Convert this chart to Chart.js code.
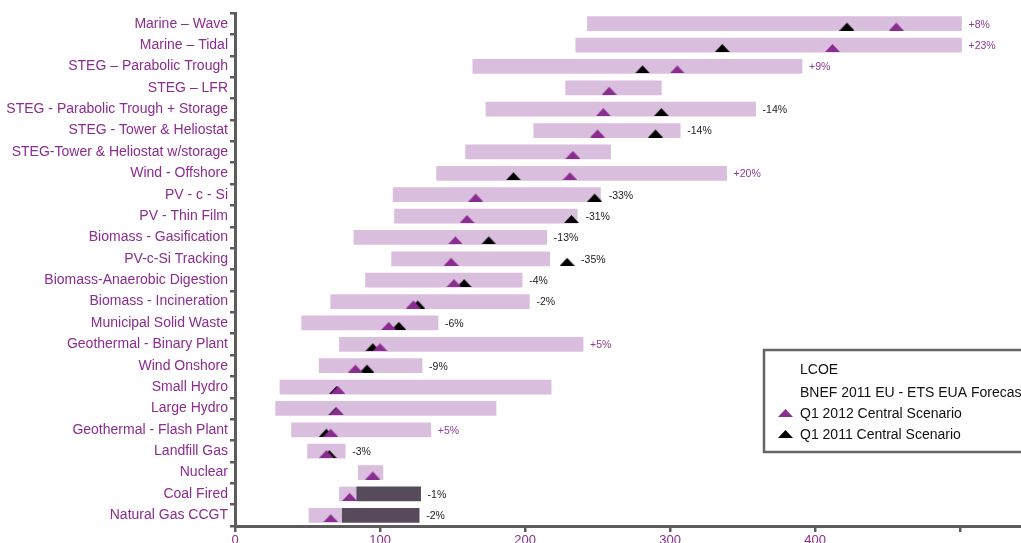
<!DOCTYPE html>
<html>
<head>
<meta charset="utf-8">
<script src="https://cdn.jsdelivr.net/npm/chart.js@4.4.1/dist/chart.umd.min.js"></script>
<style>
  html, body { margin: 0; padding: 0; background: #fff; overflow: hidden; }
  #wrap { width: 1021px; height: 543px; position: relative; }
</style>
</head>
<body>
<div id="wrap"><canvas id="lcoe-chart"></canvas></div>
<script>
(function () {
  "use strict";

  // technologies, top to bottom
  const technologies = [
    "Marine – Wave", "Marine – Tidal", "STEG – Parabolic Trough", "STEG – LFR",
    "STEG - Parabolic Trough + Storage", "STEG - Tower & Heliostat",
    "STEG-Tower & Heliostat w/storage", "Wind - Offshore", "PV - c - Si",
    "PV - Thin Film", "Biomass - Gasification", "PV-c-Si Tracking",
    "Biomass-Anaerobic Digestion", "Biomass - Incineration", "Municipal Solid Waste",
    "Geothermal - Binary Plant", "Wind Onshore", "Small Hydro", "Large Hydro",
    "Geothermal - Flash Plant", "Landfill Gas", "Nuclear", "Coal Fired", "Natural Gas CCGT",
  ];

  // LCOE range (low / high)
  const lcoeLow  = [243, 235, 164, 228, 173, 206, 159, 139, 109, 110, 82, 108, 90, 66, 46, 72, 58, 31, 28, 39, 50, 85, 72, 51];
  const lcoeHigh = [501, 501, 391, 294, 359, 307, 259, 339, 252, 236, 215, 217, 198, 203, 140, 240, 129, 218, 180, 135, 76, 102, 84, 74];

  // carbon price add-on (only fossil plants)
  const carbonLow  = [null, null, null, null, null, null, null, null, null, null, null, null, null, null, null, null, null, null, null, null, null, null, 84, 74];
  const carbonHigh = [null, null, null, null, null, null, null, null, null, null, null, null, null, null, null, null, null, null, null, null, null, null, 128, 127];

  // central scenarios
  const q1_2012 = [456, 412, 305, 258, 254, 250, 233, 231, 166, 160, 152, 149, 151, 123, 106, 100, 83, 71, 70, 66, 63, 95, 79, 66];
  const q1_2011 = [422, 336, 281, null, 294, 290, null, 192, 248, 232, 175, 229, 158, 126, 113, 95, 91, 70, 69.5, 63, 65, null, null, null];

  // change Q1 2011 -> Q1 2012
  const changeLabels = ["+8%", "+23%", "+9%", "", "-14%", "-14%", "", "+20%", "-33%", "-31%", "-13%", "-35%",
    "-4%", "-2%", "-6%", "+5%", "-9%", "", "", "+5%", "-3%", "", "-1%", "-2%"];

  const xMin = 0;
  const xMax = 542;
  const xStep = 100;
  const xLabelled = [0, 100, 200, 300, 400];

  const PURPLE = "#8b2c90";
  const LIGHT = "#d9bedd";
  const DARK = "#574a5a";
  const AXIS = "#5c5c5c";
  const FONT = "Arial, 'Liberation Sans', Helvetica, sans-serif";

  // flat triangle marker, base sitting near the bottom of the bar
  function triangleIcon(color) {
    const c = document.createElement("canvas");
    c.width = 15;
    c.height = 14;
    const g = c.getContext("2d");
    g.fillStyle = color;
    g.beginPath();
    g.moveTo(0, 14);
    g.lineTo(15, 14);
    g.lineTo(7.5, 6);
    g.closePath();
    g.fill();
    return c;
  }

  const purpleTri = triangleIcon(PURPLE);
  const blackTri = triangleIcon("#000");

  // percentage change written right of each row
  const changePlugin = {
    id: "changeLabels",
    afterDatasetsDraw(chart) {
      const { ctx, scales } = chart;
      const xs = scales.x;
      const ys = scales.y;
      ctx.save();
      ctx.font = "10.5px " + FONT;
      ctx.textBaseline = "middle";
      ctx.textAlign = "left";
      changeLabels.forEach((txt, i) => {
        if (!txt) return;
        const ends = [lcoeHigh[i], carbonHigh[i]].filter((v) => v != null).map((v) => xs.getPixelForValue(v));
        [q1_2012[i], q1_2011[i]].forEach((v) => {
          if (v != null) ends.push(xs.getPixelForValue(v) + 7);
        });
        const x = Math.max(...ends) + 7;
        const y = ys.getPixelForValue(i) + 1;
        ctx.fillStyle = txt.charAt(0) === "+" ? "#8e3a94" : "#1a1a1a";
        ctx.fillText(txt, x, y);
      });
      ctx.restore();
    },
  };

  // boxed legend in the lower right of the plot
  const legendBox = {
    id: "legendBox",
    afterDraw(chart) {
      const { ctx, chartArea } = chart;
      const left = chartArea.right - 257;
      const top = chartArea.bottom - 176;
      ctx.save();
      ctx.fillStyle = "#fff";
      ctx.fillRect(left, top, 300, 102);
      ctx.strokeStyle = "#666";
      ctx.lineWidth = 2.5;
      ctx.strokeRect(left, top, 300, 102);

      const rows = [
        { label: chart.data.datasets[0].label, icon: null },
        { label: chart.data.datasets[1].label, icon: null },
        { label: chart.data.datasets[3].label, icon: purpleTri },
        { label: chart.data.datasets[2].label, icon: blackTri },
      ];
      const rowY = [19, 42.5, 63, 84];
      ctx.font = "14px " + FONT;
      ctx.textBaseline = "middle";
      ctx.fillStyle = "#111";
      rows.forEach((r, k) => {
        const y = top + rowY[k];
        if (r.icon) ctx.drawImage(r.icon, left + 14, y - 10);
        ctx.fillText(r.label, left + 36, y + 1);
      });
      ctx.restore();
    },
  };

  const ctx = document.getElementById("lcoe-chart");

  new Chart(ctx, {
    data: {
      labels: technologies,
      datasets: [
        {
          type: "bar",
          label: "LCOE",
          data: lcoeLow.map((v, i) => [v, lcoeHigh[i]]),
          backgroundColor: LIGHT,
          barThickness: 14,
          grouped: false,
          order: 3,
        },
        {
          type: "bar",
          label: "BNEF 2011 EU - ETS EUA Forecast",
          data: carbonLow.map((v, i) => (v == null ? null : [v, carbonHigh[i]])),
          backgroundColor: DARK,
          barThickness: 14,
          grouped: false,
          order: 2,
        },
        {
          type: "line",
          label: "Q1 2011 Central Scenario",
          data: q1_2011,
          indexAxis: "y",
          showLine: false,
          pointStyle: blackTri,
          pointRadius: 8,
          pointHoverRadius: 8,
          order: 1,
        },
        {
          type: "line",
          label: "Q1 2012 Central Scenario",
          data: q1_2012,
          indexAxis: "y",
          showLine: false,
          pointStyle: purpleTri,
          pointRadius: 8,
          pointHoverRadius: 8,
          order: 0,
        },
      ],
    },
    options: {
      indexAxis: "y",
      responsive: true,
      maintainAspectRatio: false,
      animation: false,
      layout: { autoPadding: false, padding: { top: 13, right: 0, bottom: 0, left: 0 } },
      plugins: {
        legend: { display: false },
        tooltip: { enabled: false },
      },
      scales: {
        x: {
          type: "linear",
          min: xMin,
          max: xMax,
          afterFit(scale) { scale.height = 17; },
          grid: { drawOnChartArea: false, drawTicks: true, tickLength: 6, color: AXIS, lineWidth: 2.5 },
          border: { color: AXIS, width: 3 },
          ticks: {
            stepSize: xStep,
            includeBounds: false,
            color: PURPLE,
            padding: 1,
            font: { size: 13, family: FONT },
            maxRotation: 0,
            callback: (v) => (xLabelled.includes(v) ? String(v) : ""),
          },
        },
        y: {
          type: "category",
          afterFit(scale) { scale.width = 235; },
          grid: { drawOnChartArea: false, drawTicks: true, tickLength: 5, offset: true, color: AXIS, lineWidth: 2.5 },
          border: { color: AXIS, width: 3 },
          ticks: {
            color: PURPLE,
            padding: 2,
            autoSkip: false,
            font: { size: 14, family: FONT },
          },
        },
      },
    },
    plugins: [changePlugin, legendBox],
  });
})();
</script>
</body>
</html>
